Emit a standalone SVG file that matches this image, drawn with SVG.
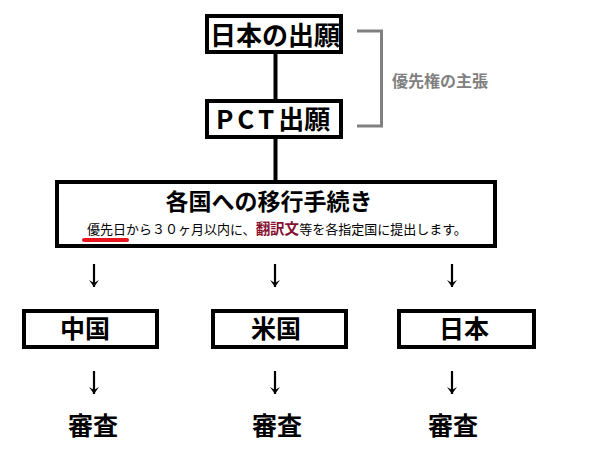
<svg xmlns="http://www.w3.org/2000/svg" width="601" height="464" viewBox="0 0 601 464">
<style>
.box{fill:#fff;stroke:#000;stroke-width:4}
.t{font-family:"Noto Sans CJK JP","Noto Sans",sans-serif;font-weight:bold;fill:#000}
.big{font-size:26px;text-anchor:middle}
.c{font-size:25px;text-anchor:middle}
.sub{font-family:"Noto Sans CJK JP","Noto Sans",sans-serif;font-size:13px;fill:#000}
.conn{stroke:#000;stroke-width:4;fill:none}
.arr{stroke:#000;stroke-width:2.2;fill:none}
</style>
<defs>
<marker id="ah2" markerUnits="userSpaceOnUse" markerWidth="10" markerHeight="8" refX="5" refY="8" orient="0" viewBox="0 0 10 8">
<path d="M0,1 L5,4 L10,1 L5,8 Z" fill="#000"/>
</marker>
</defs>
<rect width="601" height="464" fill="#fff"/>
<g id="connectors">
<line class="conn" x1="275.5" y1="54" x2="275.5" y2="99"/>
<line class="conn" x1="275.5" y1="139" x2="275.5" y2="180"/>
<line class="arr" x1="94" y1="264" x2="94" y2="287" marker-end="url(#ah2)"/>
<line class="arr" x1="275" y1="264" x2="275" y2="287" marker-end="url(#ah2)"/>
<line class="arr" x1="452" y1="264" x2="452" y2="287" marker-end="url(#ah2)"/>
<line class="arr" x1="94" y1="371" x2="94" y2="394" marker-end="url(#ah2)"/>
<line class="arr" x1="275" y1="371" x2="275" y2="394" marker-end="url(#ah2)"/>
<line class="arr" x1="452" y1="371" x2="452" y2="394" marker-end="url(#ah2)"/>
</g>
<g id="bracket">
<path d="M357,31 H381.5 V126 H357" fill="none" stroke="#808080" stroke-width="3"/>
<text class="t" x="392" y="87" font-size="16" style="fill:#808080">優先権の主張</text>
</g>
<g id="node-jp-app">
<rect class="box" x="207" y="16" width="134" height="36"/>
<text class="t big" x="275" y="45">日本の出願</text>
</g>
<g id="node-pct">
<rect class="box" x="207" y="101" width="134" height="36"/>
<text class="t" x="216" y="129" font-size="26"><tspan letter-spacing="4">PCT</tspan>出願</text>
</g>
<g id="node-transition">
<rect class="box" x="57" y="182" width="438" height="64"/>
<text class="t" x="269" y="210" font-size="23" text-anchor="middle">各国への移行手続き</text>
<text class="sub" x="87" y="234">優先日から３０ヶ月以内に、<tspan font-weight="bold" font-size="14.5" fill="#881030">翻訳文</tspan>等を各指定国に提出します。</text>
<line x1="84" y1="240" x2="127" y2="240" stroke="#e8141e" stroke-width="4" stroke-linecap="round"/>
</g>
<g id="node-cn">
<rect class="box" x="24" y="311" width="133" height="36"/>
<text class="t c" x="85" y="338">中国</text>
</g>
<g id="node-us">
<rect class="box" x="213" y="311" width="133" height="36"/>
<text class="t c" x="276" y="338">米国</text>
</g>
<g id="node-jp">
<rect class="box" x="399" y="311" width="135" height="36"/>
<text class="t c" x="464" y="338">日本</text>
</g>
<g id="exam-cn"><text class="t c" x="93" y="435" font-size="26">審査</text></g>
<g id="exam-us"><text class="t c" x="277" y="435" font-size="26">審査</text></g>
<g id="exam-jp"><text class="t c" x="453" y="435" font-size="26">審査</text></g>
</svg>
